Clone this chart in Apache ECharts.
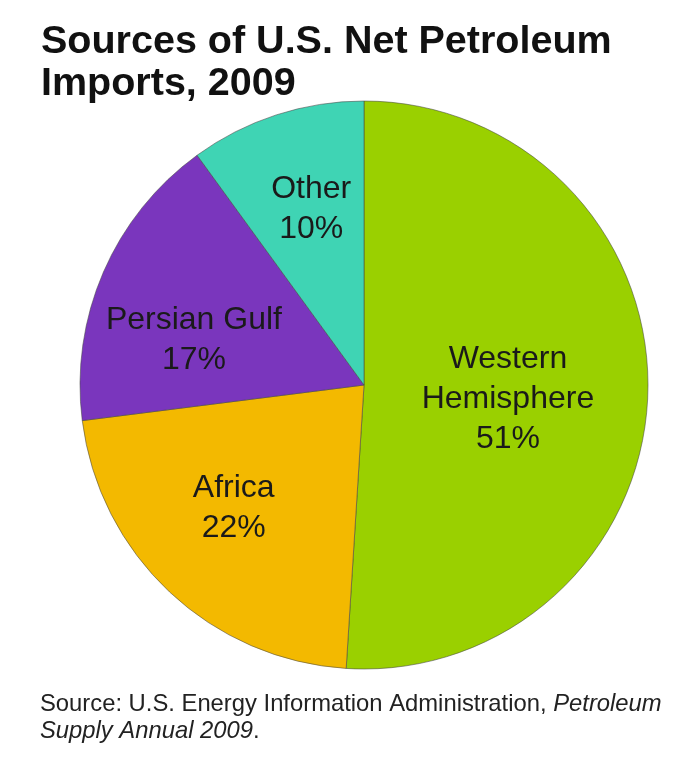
<!DOCTYPE html>
<html>
<head>
<meta charset="utf-8">
<title>Sources of U.S. Net Petroleum Imports, 2009</title>
<script src="https://cdn.jsdelivr.net/npm/echarts@6/dist/echarts.min.js"></script>
<style>
  html, body { margin: 0; padding: 0; background: #fff; }
</style>
</head>
<body>
<div id="main" style="width:700px;height:769px;"></div>
<script>
// data
var regions = ['Western Hemisphere', 'Africa', 'Persian Gulf', 'Other'];
var regionLabels = ['Western\nHemisphere', 'Africa', 'Persian Gulf', 'Other'];
var shares = [51, 22, 17, 10];

var colors = ['#9ad000', '#f3b900', '#7a36bd', '#3fd4b4'];
// nudges for the slice labels (px), relative to the default inside spot
var labelNudge = [[-1, 10], [-31, 17], [-37, 13], [-8, -38]];

var font = 'Liberation Sans, Arial, Helvetica, sans-serif';

var pieData = regions.map(function (name, i) {
  return { name: name, value: shares[i], itemStyle: { color: colors[i] } };
});

var chart = echarts.init(document.getElementById('main'), null, { renderer: 'canvas' });

chart.setOption({
  animation: false,
  title: [
    {
      text: 'Sources of U.S. Net Petroleum\nImports, 2009',
      left: 36,
      top: 16,
      textStyle: {
        fontFamily: font,
        fontSize: 39.5,
        fontWeight: 'bold',
        lineHeight: 42,
        color: '#111'
      }
    },
    {
      text: 'Source: U.S. Energy Information Administration, {i|Petroleum}\n{i|Supply Annual 2009}.',
      left: 35,
      top: 686,
      textStyle: {
        fontFamily: font,
        fontSize: 23.8,
        fontWeight: 'normal',
        lineHeight: 27,
        color: '#222',
        rich: {
          i: { fontFamily: font, fontSize: 23.8, fontStyle: 'italic', lineHeight: 27, color: '#222' }
        }
      }
    }
  ],
  series: [
    {
      type: 'pie',
      center: [364, 385],
      radius: [0, 284],
      startAngle: 90,
      clockwise: true,
      avoidLabelOverlap: false,
      data: pieData,
      itemStyle: {
        borderColor: 'rgba(70,70,70,0.55)',
        borderWidth: 1
      },
      label: {
        show: true,
        position: 'inside',
        fontFamily: font,
        fontSize: 32,
        lineHeight: 40,
        color: '#1a1a1a',
        formatter: function (p) {
          return regionLabels[p.dataIndex] + '\n' + p.value + '%';
        }
      },
      labelLine: { show: false },
      labelLayout: function (p) {
        var n = labelNudge[p.dataIndex];
        return { dx: n[0], dy: n[1] };
      },
      emphasis: { disabled: true }
    }
  ]
});
</script>
</body>
</html>
